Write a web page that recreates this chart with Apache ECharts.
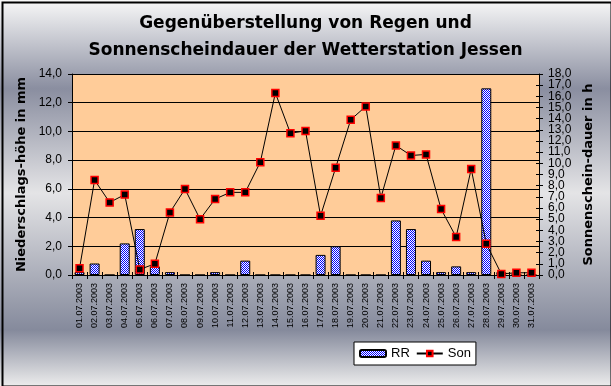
<!DOCTYPE html>
<html>
<head>
<meta charset="utf-8">
<script src="https://cdn.jsdelivr.net/npm/echarts@6/dist/echarts.min.js"></script>
<style>
html,body{margin:0;padding:0;background:#fff;}
#c{width:611px;height:386px;}
</style>
</head>
<body>
<div id="c"></div>
<script>
const categories = ['01.07.2003','02.07.2003','03.07.2003','04.07.2003','05.07.2003','06.07.2003','07.07.2003','08.07.2003','09.07.2003','10.07.2003','11.07.2003','12.07.2003','13.07.2003','14.07.2003','15.07.2003','16.07.2003','17.07.2003','18.07.2003','19.07.2003','20.07.2003','21.07.2003','22.07.2003','23.07.2003','24.07.2003','25.07.2003','26.07.2003','27.07.2003','28.07.2003','29.07.2003','30.07.2003','31.07.2003'];
const rr = [0.2,0.8,0,2.2,3.2,0.6,0.2,0,0,0.2,0,1.0,0,0,0,0,1.4,2.0,0,0,0,3.8,3.2,1.0,0.2,0.6,0.2,13.0,0.2,0,0];
const son = [0.6,8.5,6.5,7.2,0.5,1.0,5.6,7.7,5.0,6.8,7.4,7.4,10.1,16.3,12.7,12.9,5.3,9.6,13.9,15.1,6.9,11.6,10.7,10.8,5.9,3.4,9.5,2.8,0.1,0.2,0.2];
const titleText = 'Gegenüberstellung von Regen und\nSonnenscheindauer der Wetterstation Jessen';
const leftName = 'Niederschlags-höhe in mm';
const rightName = 'Sonnenschein-dauer in h';

const FONT = '"Liberation Sans", Arial, sans-serif';
const BOLDFONT = '"DejaVu Sans", "Liberation Sans", Arial, sans-serif';
const fmt = v => v.toFixed(1).replace('.', ',');

// checkered blue/white pattern
const pc = document.createElement('canvas');
pc.width = 2; pc.height = 2;
const px = pc.getContext('2d');
px.fillStyle = '#ffffff'; px.fillRect(0,0,2,2);
px.fillStyle = '#0000ff'; px.fillRect(0,0,1,1); px.fillRect(1,1,1,1);
const pattern = {image: pc, repeat: 'repeat'};

const rightLabel = {margin: 9, fontFamily: FONT, fontSize: 12, color: '#000'};

const chart = echarts.init(document.getElementById('c'), null, {renderer: 'canvas'});
chart.setOption({
  animation: false,
  backgroundColor: new echarts.graphic.LinearGradient(0,0,0,1,[
    {offset:0, color:'#f8f8f8'},
    {offset:0.23, color:'#8a8ea0'},
    {offset:0.5, color:'#e4e4e6'},
    {offset:0.855, color:'#858a9c'},
    {offset:1, color:'#ececec'}
  ]),
  graphic: [{
    type:'rect', left:0, top:0, z:100, silent:true,
    shape:{x:1, y:1, width:609, height:384},
    style:{fill:null, stroke:'#000', lineWidth:2}
  }],
  title: {
    text: titleText,
    left: 'center', top: 10, padding: 0,
    textStyle: {fontFamily: BOLDFONT, fontSize: 17, fontWeight: 'bold', color: '#000', lineHeight: 27}
  },
  legend: {
    left: 354, top: 342,
    padding: [5,5,5,5],
    backgroundColor: '#ffffff', borderColor: '#000', borderWidth: 1,
    itemWidth: 26, itemHeight: 7, itemGap: 6,
    textStyle: {fontFamily: FONT, fontSize: 13, color: '#000'},
    data: ['RR','Son']
  },
  grid: {
    left: 72, right: 72, top: 74, bottom: 111,
    show: true, backgroundColor: '#ffcc99', borderWidth: 0
  },
  xAxis: [{
    type: 'category', data: categories, boundaryGap: true,
    axisLine: {show: true, lineStyle: {color: '#000', width: 1}},
    axisTick: {show: true, interval: 0, length: 4, lineStyle: {color: '#000'}},
    axisLabel: {interval: 0, rotate: 90, margin: 8, fontFamily: FONT, fontSize: 9, color: '#000'},
    splitLine: {show: false}
  },{
    type: 'category', data: categories, boundaryGap: true, position: 'bottom',
    axisLine: {show: false},
    axisTick: {show: true, inside: true, interval: 0, length: 3, lineStyle: {color: '#000'}},
    axisLabel: {show: false}, splitLine: {show: false}
  }],
  yAxis: [{
    type: 'value', min: 0, max: 14, interval: 2, position: 'left',
    name: leftName, nameLocation: 'middle', nameGap: 31, nameRotate: 90,
    nameTextStyle: {fontFamily: BOLDFONT, fontSize: 13, fontWeight: 'bold', color: '#000'},
    axisLine: {show: true, lineStyle: {color: '#000'}},
    axisTick: {show: true, length: 4, lineStyle: {color: '#000'}},
    axisLabel: {formatter: fmt, margin: 10, showMinLabel: true, showMaxLabel: true, fontFamily: FONT, fontSize: 12, color: '#000'},
    splitLine: {show: true, lineStyle: {color: '#000', width: 1}}
  },{
    // main right axis: odd labels + all outward ticks
    type: 'value', min: 0, max: 18, interval: 1, position: 'right',
    name: rightName, nameLocation: 'middle', nameGap: 36, nameRotate: 90,
    nameTextStyle: {fontFamily: BOLDFONT, fontSize: 13, fontWeight: 'bold', color: '#000'},
    axisLine: {show: true, lineStyle: {color: '#000'}},
    axisTick: {show: true, length: 4, lineStyle: {color: '#000'}},
    axisLabel: Object.assign({formatter: v => (Math.round(v) % 2 === 1 ? fmt(v) : ''), showMinLabel: false, showMaxLabel: false}, rightLabel),
    splitLine: {show: false}
  },{
    // inner ticks on right axis
    type: 'value', min: 0, max: 18, interval: 1, position: 'right',
    axisLine: {show: false},
    axisTick: {show: true, inside: true, length: 3, lineStyle: {color: '#000'}},
    axisLabel: {show: false}, splitLine: {show: false}
  },{
    // even labels on right axis
    type: 'value', min: 0, max: 18, interval: 2, position: 'right',
    axisLine: {show: false},
    axisTick: {show: true, length: 4, lineStyle: {color: '#000'}},
    axisLabel: Object.assign({formatter: fmt, showMinLabel: true, showMaxLabel: true}, rightLabel),
    splitLine: {show: false}
  }],
  series: [{
    name: 'RR', type: 'bar', data: rr, xAxisIndex: 0, yAxisIndex: 0,
    barWidth: 10,
    itemStyle: {color: pattern, borderColor: '#000', borderWidth: 1}
  },{
    name: 'Son', type: 'line', data: son, xAxisIndex: 0, yAxisIndex: 1,
    symbol: 'rect', symbolSize: 7,
    lineStyle: {color: '#000', width: 1},
    itemStyle: {color: '#000', borderColor: '#ff0000', borderWidth: 1.5},
    z: 3
  }]
});
</script>
</body>
</html>
